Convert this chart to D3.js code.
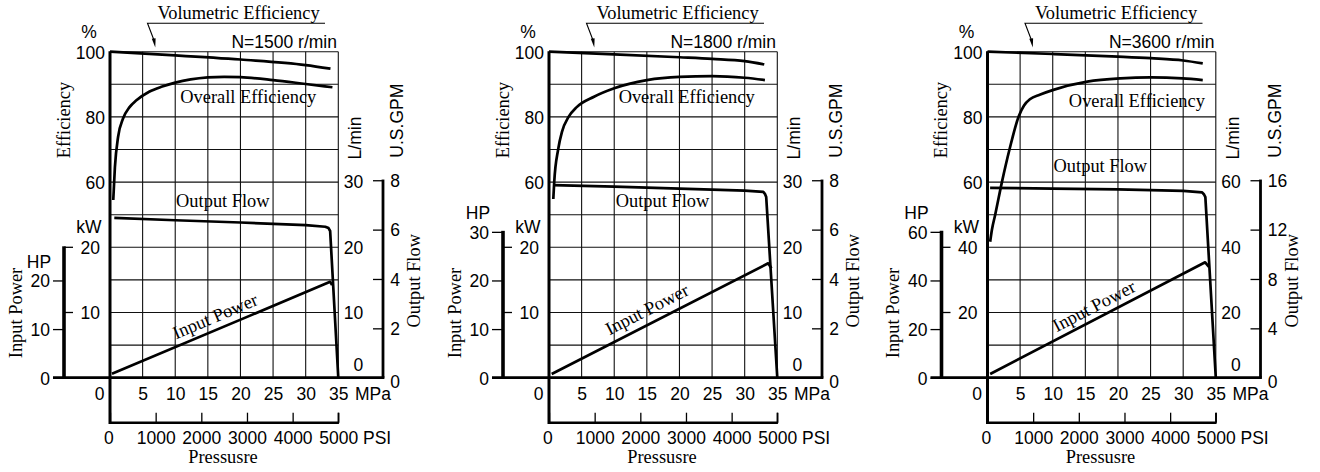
<!DOCTYPE html>
<html><head><meta charset="utf-8">
<script src="https://cdn.jsdelivr.net/npm/d3@7"></script>
<style>
html,body{margin:0;padding:0;background:#fff;}
svg{display:block;}
</style></head><body>
<svg id="chart" width="1320" height="472"></svg>
<script>
// ---------------- DATA ----------------
const speedLabels = ["N=1500 r/min", "N=1800 r/min", "N=3600 r/min"];
const mpaTicks = [0, 5, 10, 15, 20, 25, 30, 35];
const psiTicks = [0, 1000, 2000, 3000, 4000, 5000];
const effTicks = [60, 80, 100];
const effGrid = [0, 10, 20, 30, 40, 50, 60, 70, 80, 90, 100];
const kwTicks = [[10, 20], [10, 20], [20, 40]];
const hpTicks = [[0, 10, 20], [0, 10, 20, 30], [0, 20, 40, 60]];
const lpmTicks = [[0, 10, 20, 30], [0, 10, 20, 30], [0, 20, 40, 60]];
const gpmTicks = [[0, 2, 4, 6, 8], [0, 2, 4, 6, 8], [0, 4, 8, 12, 16]];
const kwMax = [20, 20, 40];
const lpmMax = [30, 30, 60];

// [pressure MPa, efficiency %]
const volEff1500 = [[0,100],[10,98.9],[20,97.6],[30,95.9],[33.8,94.8]];
const volEff1800 = [[0,100],[10,99.2],[20,98.3],[25,97.8],[30,97.1],[33,96.1]];
const volEff3600 = [[0,100],[10,99.3],[20,98.5],[25,98],[30,97.3],[33,96.4]];

const overallEff1500 = [[0.5,54.5],[0.75,64.5],[1.25,74],[2,79.5],[3,83],[4,85],[6,87.7],[8,89.3],[10,90.5],[15,92.1],[17.5,92.3],[20,92.2],[25,91.3],[30,90.1],[34.1,89.1]];
const overallEff1800 = [[0.66,54.8],[0.8,60],[1.4,70],[2,75.5],[3,80],[4.25,83],[6.9,86.2],[10,88.8],[15,91.3],[20,92.3],[25,92.5],[30,92],[33.1,91.3]];
const overallEff3600 = [[0.41,41.7],[0.67,45.3],[1.18,50],[2.21,60],[3.37,70],[4.75,80],[5.6,83.5],[6.55,85.5],[8,86.8],[10.1,88.3],[15.3,90.8],[20.4,91.8],[25,92.1],[29.9,91.8],[33,91.3]];

// [pressure MPa, output flow L/min]
const outputFlow1500 = [[0.66,24.5],[10,24.15],[20,23.8],[30,23.4],[33,23.15],[33.5,22.95],[33.75,22.5],[35,0]];
const outputFlow1800 = [[0.66,29.55],[10,29.3],[20,29.0],[30,28.7],[32.85,28.5],[33.1,28.2],[33.3,27.7],[35,0]];
const outputFlow3600 = [[0.4,58.25],[10,58.0],[20,57.75],[30,57.3],[32.9,56.85],[33.2,56.2],[33.4,55.4],[35,0]];

// [pressure MPa, input power kW]
const inputPower1500 = [[0.3,0.6],[33.75,14.7],[34.05,14.2]];
const inputPower1800 = [[0.41,0.57],[33.6,17.55],[34.1,16.8]];
const inputPower3600 = [[0.41,1.13],[33.37,35.4],[33.95,34.0]];

const volEff = [volEff1500, volEff1800, volEff3600];
const overallEff = [overallEff1500, overallEff1800, overallEff3600];
const outputFlow = [outputFlow1500, outputFlow1800, outputFlow3600];
const inputPower = [inputPower1500, inputPower1800, inputPower3600];

// ---------------- LAYOUT ----------------
const KW_PER_HP = 0.7457, LPM_PER_GPM = 3.7854;
const panelLeft = [110, 549, 987.5];
const PW = 228.3, TOP = 51.7, BASE = 377.7, ROW = 32.6, PSI_Y = 422.7;
// label anchors in data coords [MPa, eff-scale]
const overallLabelAt = [[21.2,86.2],[21.1,86.2],[22.9,85.2]];
const outputLabelAt = [[17.3,54.5],[17.4,54.5],[17.3,65]];
const inputLabelAt = [[16.1,19.0],[15.0,21.1],[16.3,22.1]];

const SANS = '"Liberation Sans", Arial, Helvetica, sans-serif';
const SERIF = '"Liberation Serif", "Times New Roman", serif';
const SANS_SIZE = 17.5, SERIF_SIZE = 18.4;
const INK = "#000";

const svg = d3.select("#chart");

function txt(g, s, x, y, opt = {}) {
  const t = g.append("text").attr("x", x).attr("y", y)
    .attr("font-family", opt.serif ? SERIF : SANS)
    .attr("font-size", opt.size || (opt.serif ? SERIF_SIZE : SANS_SIZE))
    .attr("fill", INK)
    .attr("text-anchor", opt.anchor || "middle")
    .attr("dy", opt.dy || "0.36em")
    .text(s);
  if (opt.rotate != null) t.attr("transform", `rotate(${opt.rotate},${x},${y})`);
  return t;
}

function styleAxis(ax) {
  ax.select(".domain").remove();
  ax.attr("font-family", SANS).attr("font-size", SANS_SIZE);
  ax.selectAll(".tick line").attr("stroke", INK).attr("stroke-width", 1.3);
  ax.selectAll(".tick text").attr("fill", INK);
}

function drawPanel(i) {
  const L = panelLeft[i];
  const g = svg.append("g");
  const x = d3.scaleLinear([0, 35], [L, L + PW]);
  const xPsi = d3.scaleLinear([0, 5000], [L, L + PW]);
  const yEff = d3.scaleLinear([0, 100], [BASE, BASE - 10 * ROW]);
  const yKW = d3.scaleLinear([0, kwMax[i]], [BASE, BASE - 4 * ROW]);
  const yHP = d3.scaleLinear([0, kwMax[i] / KW_PER_HP], [BASE, BASE - 4 * ROW]);
  const yLPM = d3.scaleLinear([0, lpmMax[i]], [BASE, BASE - 6 * ROW]);
  const yGPM = d3.scaleLinear([0, lpmMax[i] / LPM_PER_GPM], [BASE, BASE - 6 * ROW]);

  // grid
  const grid = g.append("g").attr("stroke", "#111").attr("stroke-width", 1.1);
  grid.selectAll("line.h").data(effGrid).join("line")
    .attr("x1", L).attr("x2", L + PW)
    .attr("y1", d => yEff(d)).attr("y2", d => yEff(d));
  grid.selectAll("line.v").data(mpaTicks).join("line")
    .attr("x1", d => x(d)).attr("x2", d => x(d))
    .attr("y1", TOP).attr("y2", BASE);

  // MPa axis labels
  const mpaAx = g.append("g").attr("transform", `translate(0,${BASE})`)
    .call(d3.axisBottom(x).tickValues(mpaTicks).tickSize(0).tickPadding(9.6).tickFormat(d3.format("d")));
  styleAxis(mpaAx);
  mpaAx.selectAll(".tick text").attr("dx", d => d === 0 ? -10.8 : 0);
  txt(g, "MPa", L + 245, 393.3, { anchor: "start" });

  // PSI axis
  const psiAx = g.append("g").attr("transform", `translate(0,${PSI_Y})`)
    .call(d3.axisBottom(xPsi).tickValues(psiTicks).tickSize(-10).tickPadding(8.6).tickFormat(d3.format("d")));
  styleAxis(psiAx);
  psiAx.selectAll(".tick text").attr("dx", d => d === 0 ? -1.7 : 0);
  g.append("line").attr("x1", L).attr("x2", L + PW).attr("y1", PSI_Y).attr("y2", PSI_Y)
    .attr("stroke", INK).attr("stroke-width", 2.4);
  txt(g, "PSI", L + 253, 437.3, { anchor: "start" });
  txt(g, "Pressusre", L + 113, 456.5, { serif: true });

  // Efficiency axis labels
  const effAx = g.append("g").attr("transform", `translate(${L},0)`)
    .call(d3.axisLeft(yEff).tickValues(effTicks).tickSize(0).tickPadding(5));
  styleAxis(effAx);
  effAx.selectAll(".tick text").attr("dy", "0.36em");
  txt(g, "%", L - 21, 31.7);
  txt(g, "Efficiency", L - 46.7, 120, { serif: true, rotate: -90 });
  txt(g, speedLabels[i], L + 227, 42, { anchor: "end" });

  // HP axis
  const hpX = L - 46;
  const hpTop = Math.max(d3.max(hpTicks[i]), kwMax[i] / KW_PER_HP);
  const hpAx = g.append("g").attr("transform", `translate(${hpX},0)`)
    .call(d3.axisLeft(yHP).tickValues(hpTicks[i]).tickSize(11).tickPadding(3));
  styleAxis(hpAx);
  hpAx.selectAll(".tick text").attr("dy", "0.36em");
  g.append("line").attr("x1", hpX).attr("x2", hpX).attr("y1", yHP(hpTop) - 1).attr("y2", BASE)
    .attr("stroke", INK).attr("stroke-width", 3.6);
  const hpTopTick = d3.max(hpTicks[i]);
  txt(g, "HP", L - 71, yHP(hpTopTick) - 19);
  txt(g, "Input Power", L - 95, 313, { serif: true, rotate: -90 });

  // kW ticks (pointing right from HP axis)
  const kwG = g.append("g");
  kwG.selectAll("line").data(kwTicks[i]).join("line")
    .attr("x1", hpX).attr("x2", hpX + 9)
    .attr("y1", d => yKW(d)).attr("y2", d => yKW(d))
    .attr("stroke", INK).attr("stroke-width", 1.3);
  kwTicks[i].forEach(v => txt(g, String(v), L - 10, yKW(v), { anchor: "end" }));
  txt(g, "kW", L - 21, 227);

  // L/min labels
  lpmTicks[i].forEach(v => txt(g, String(v), L + 253.3, v === 0 ? BASE - 12.7 : yLPM(v), { anchor: "end" }));
  txt(g, "L/min", L + 245, 138, { rotate: -90 });

  // GPM axis
  const gpmX = L + 273;
  const gpmAx = g.append("g").attr("transform", `translate(${gpmX},0)`)
    .call(d3.axisRight(yGPM).tickValues(gpmTicks[i]).tickSize(-10).tickPadding(7.3));
  styleAxis(gpmAx);
  gpmAx.selectAll(".tick text").attr("dy", d => d === 0 ? "0.55em" : "0.36em");
  g.append("line").attr("x1", gpmX).attr("x2", gpmX)
    .attr("y1", yGPM(d3.max(gpmTicks[i])) - 0.7).attr("y2", BASE)
    .attr("stroke", INK).attr("stroke-width", 2.8);
  txt(g, "U.S.GPM", L + 287, 120.7, { rotate: -90 });
  txt(g, "Output Flow", L + 303.5, 280.8, { serif: true, rotate: -90 });

  // main axes
  g.append("line").attr("x1", L - 57).attr("x2", gpmX + 1.4).attr("y1", BASE).attr("y2", BASE)
    .attr("stroke", INK).attr("stroke-width", 2.8);
  g.append("line").attr("x1", L).attr("x2", L).attr("y1", TOP - 0.5).attr("y2", PSI_Y + 1.2)
    .attr("stroke", INK).attr("stroke-width", 3);
  g.append("line").attr("x1", L + PW).attr("x2", L + PW).attr("y1", PSI_Y - 10).attr("y2", PSI_Y + 1.2)
    .attr("stroke", INK).attr("stroke-width", 1.5);

  // curves
  const effLine = d3.line().x(d => x(d[0])).y(d => yEff(d[1])).curve(d3.curveMonotoneX);
  const flowLine = d3.line().x(d => x(d[0])).y(d => yLPM(d[1]));
  const powLine = d3.line().x(d => x(d[0])).y(d => yKW(d[1]));
  const cs = { fill: "none", stroke: INK, "stroke-width": 2.7, "stroke-linejoin": "round", "stroke-linecap": "butt" };
  const addPath = (d) => { const p = g.append("path").attr("d", d); Object.entries(cs).forEach(([k, v]) => p.attr(k, v)); };
  addPath(effLine(volEff[i]));
  addPath(effLine(overallEff[i]));
  addPath(flowLine(outputFlow[i]));
  addPath(powLine(inputPower[i]));

  // curve labels
  txt(g, "Overall Efficiency", x(overallLabelAt[i][0]), yEff(overallLabelAt[i][1]), { serif: true });
  txt(g, "Output Flow", x(outputLabelAt[i][0]), yEff(outputLabelAt[i][1]), { serif: true });
  const p0 = inputPower[i][0], p1 = inputPower[i][1];
  const ang = Math.atan2(yKW(p1[1]) - yKW(p0[1]), x(p1[0]) - x(p0[0])) * 180 / Math.PI;
  txt(g, "Input Power", x(inputLabelAt[i][0]), yEff(inputLabelAt[i][1]), { serif: true, rotate: ang });

  // Volumetric efficiency callout
  txt(g, "Volumetric Efficiency", L + 128.5, 18.5, { serif: true, dy: "0em" });
  const lx0 = L + 37.5, lx1 = L + 215, ly = 23.3;
  g.append("path").attr("d", `M${lx1},${ly}H${lx0}L${L + 44.3},${41}`)
    .attr("fill", "none").attr("stroke", INK).attr("stroke-width", 1.1);
  const tipX = L + 45.3, tipY = 47.5;
  g.append("path").attr("d", `M${tipX},${tipY}L${L + 41.8},${38.8}L${L + 45.6},${38.2}Z`).attr("fill", INK);
}

[0, 1, 2].forEach(drawPanel);
</script>
</body></html>
